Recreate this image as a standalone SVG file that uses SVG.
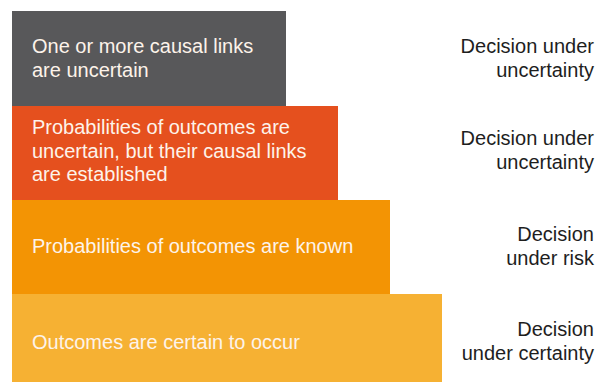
<svg xmlns="http://www.w3.org/2000/svg" width="606" height="382" viewBox="0 0 606 382">
<style>
.t{font-family:"Liberation Sans",Arial,sans-serif;font-size:20px;fill:#fdf3ea}
.r{font-family:"Liberation Sans",Arial,sans-serif;font-size:20px;fill:#1e1e1e;text-anchor:end}
</style>
<rect width="606" height="382" fill="#ffffff"/>
<g id="level1">
<rect x="12" y="11" width="274" height="95" fill="#58585a"/>
<text class="t" x="32" y="53">One or more causal links</text>
<text class="t" x="32" y="77">are uncertain</text>
</g>
<g id="level2">
<rect x="12" y="106" width="326" height="94" fill="#e5501e"/>
<text class="t" x="32" y="134">Probabilities of outcomes are</text>
<text class="t" x="32" y="158">uncertain, but their causal links</text>
<text class="t" x="32" y="181">are established</text>
</g>
<g id="level3">
<rect x="12" y="200" width="378" height="94" fill="#f39404"/>
<text class="t" x="32" y="253">Probabilities of outcomes are known</text>
</g>
<g id="level4">
<rect x="12" y="294" width="430" height="88" fill="#f6b133"/>
<text class="t" x="32" y="349">Outcomes are certain to occur</text>
</g>
<g id="labels">
<text class="r" x="594" y="53">Decision under</text>
<text class="r" x="594" y="77">uncertainty</text>
<text class="r" x="594" y="145">Decision under</text>
<text class="r" x="594" y="169">uncertainty</text>
<text class="r" x="594" y="241">Decision</text>
<text class="r" x="594" y="265">under risk</text>
<text class="r" x="594" y="336">Decision</text>
<text class="r" x="594" y="360">under certainty</text>
</g>
</svg>
